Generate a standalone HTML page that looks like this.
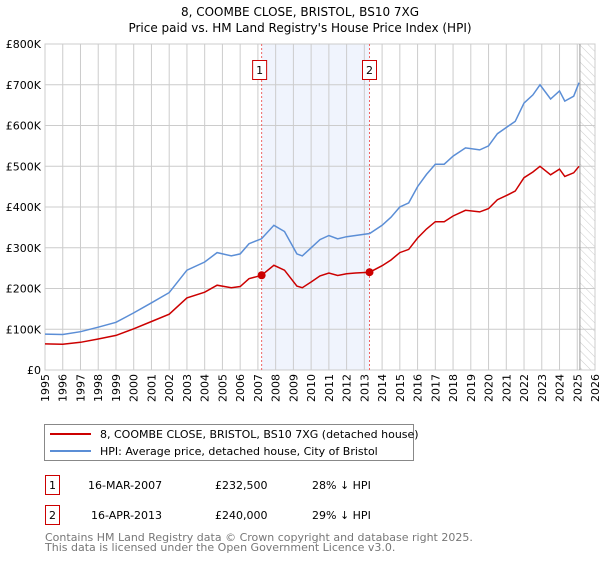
<!DOCTYPE html>
<html><head><meta charset="utf-8"><style>
body{margin:0;background:#fff;font-family:"DejaVu Sans","Liberation Sans",sans-serif;}
svg text{font-family:"DejaVu Sans","Liberation Sans",sans-serif;}
</style></head><body>
<svg id="c" width="600" height="560" viewBox="0 0 600 560" xmlns="http://www.w3.org/2000/svg">
<text x="300" y="16" text-anchor="middle" font-size="12">8, COOMBE CLOSE, BRISTOL, BS10 7XG</text>
<text x="300" y="32" text-anchor="middle" font-size="12">Price paid vs. HM Land Registry's House Price Index (HPI)</text>
<g id="plot"></g>
<rect x="44.5" y="424.5" width="369" height="36" fill="#fff" stroke="#888"/>
<line x1="50" y1="434" x2="91" y2="434" stroke="#cc0000" stroke-width="2"/>
<text x="100" y="438" font-size="11">8, COOMBE CLOSE, BRISTOL, BS10 7XG (detached house)</text>
<line x1="50" y1="451" x2="91" y2="451" stroke="#5b8ed6" stroke-width="2"/>
<text x="100" y="455" font-size="11">HPI: Average price, detached house, City of Bristol</text>
<rect x="45.5" y="475.5" width="14" height="19" fill="#fff" stroke="#cc0000"/>
<text x="52.5" y="489" font-size="11" text-anchor="middle">1</text>
<text x="88" y="489" font-size="11">16-MAR-2007</text>
<text x="215" y="489" font-size="11">£232,500</text>
<text x="312" y="489" font-size="11">28% ↓ HPI</text>
<rect x="45.5" y="505.5" width="14" height="19" fill="#fff" stroke="#cc0000"/>
<text x="52.5" y="519" font-size="11" text-anchor="middle">2</text>
<text x="91" y="519" font-size="11">16-APR-2013</text>
<text x="215" y="519" font-size="11">£240,000</text>
<text x="312" y="519" font-size="11">29% ↓ HPI</text>
<text x="45" y="541" font-size="11" fill="#777">Contains HM Land Registry data © Crown copyright and database right 2025.</text>
<text x="45" y="551" font-size="11" fill="#777">This data is licensed under the Open Government Licence v3.0.</text>
</svg>
<script>
const hpiYears=[1995,1996,1997,1998,1999,2000,2001,2002,2003,2004,2004.7,2005.5,2006,2006.5,2007.2,2007.9,2008.5,2009.2,2009.5,2010,2010.5,2011,2011.5,2012,2012.5,2013.3,2014,2014.5,2015,2015.5,2016,2016.5,2017,2017.5,2018,2018.7,2019.5,2020,2020.5,2021,2021.5,2022,2022.5,2022.9,2023.5,2024,2024.3,2024.8,2025.1];
const hpiValues=[88,87,94,105,117,140,165,190,245,265,288,280,285,310,322,355,340,285,280,300,320,330,322,327,330,335,355,375,400,410,450,480,505,505,525,545,540,550,580,595,610,655,675,700,665,685,660,672,705];
const priceValues=[64,63,68,76,85,101,119,137,177,191,208,202,205,224,232.5,257,245,206,202,216,231,238,232,236,238,240,256,270,288,296,324,346,364,364,378,392,388,396,418,428,439,472,486,500,479,493,475,484,500];
const saleYears=[2007.21,2013.29];
const saleValues=[232.5,240];
const yTicks=[0,100,200,300,400,500,600,700,800];
const yTickLabels=["£0","£100K","£200K","£300K","£400K","£500K","£600K","£700K","£800K"];
const xTicks=[1995,1996,1997,1998,1999,2000,2001,2002,2003,2004,2005,2006,2007,2008,2009,2010,2011,2012,2013,2014,2015,2016,2017,2018,2019,2020,2021,2022,2023,2024,2025,2026];
const NS="http://www.w3.org/2000/svg";
const L=45,R=595,T=44,B=370;
const xs=y=>L+(y-1995)/(2026-1995)*(R-L);
const ys=v=>B-v/800*(B-T);
const g=document.getElementById('plot');
function mk(tag,attrs){const e=document.createElementNS(NS,tag);for(const k in attrs)e.setAttribute(k,attrs[k]);g.appendChild(e);return e;}
let e;
e=mk('rect',{x:L,y:T,width:R-L,height:B-T,fill:'#fff',stroke:'#ccc'});


e=mk('rect',{x:xs(saleYears[0]),y:T,width:xs(saleYears[1])-xs(saleYears[0]),height:B-T,fill:'#f0f4fd'});


const defs=document.createElementNS(NS,'defs');
defs.innerHTML='<pattern id="hat" width="6" height="6" patternUnits="userSpaceOnUse" patternTransform="rotate(-45)"><line x1="0" y1="0" x2="0" y2="6" stroke="#ccc" stroke-width="1"/></pattern>';
g.appendChild(defs);
e=mk('rect',{x:xs(2025.15),y:T,width:R-xs(2025.15),height:B-T,fill:'url(#hat)'});


xTicks.forEach(t=>{
 e=mk('line',{x1:xs(t),x2:xs(t),y1:T,y2:B,stroke:'#ccc'});
 
 
 e=mk('text',{x:0,y:0,'font-size':11,'text-anchor':'end',transform:`translate(${xs(t)+4},${B+4}) rotate(-90)`});
 e.textContent=t;
 
 
});
yTicks.forEach((t,i)=>{
 e=mk('line',{x1:L,x2:R,y1:ys(t),y2:ys(t),stroke:'#ccc'});
 
 
 e=mk('text',{x:L-4,y:ys(t)+4,'font-size':11,'text-anchor':'end'});
 e.textContent=yTickLabels[i];
 
 
});
e=mk('line',{x1:xs(2025.15),x2:xs(2025.15),y1:T,y2:B,stroke:'#999'});


saleYears.forEach((s,i)=>{
 e=mk('line',{x1:xs(s),x2:xs(s),y1:T,y2:B,stroke:'#e66','stroke-dasharray':'2,2'});
 
 
 e=mk('rect',{x:xs(s)-(i?7:9),y:60.5,width:14,height:19,fill:'#fff',stroke:'#cc0000'});
 
 
 e=mk('text',{x:xs(s)-(i?0:2),y:74,'font-size':11,'text-anchor':'middle'});
 e.textContent=String(i+1);
 
 
});
const pts=v=>hpiYears.map((y,i)=>xs(y).toFixed(1)+','+ys(v[i]).toFixed(1)).join(' ');
e=mk('polyline',{points:pts(hpiValues),fill:'none',stroke:'#5b8ed6','stroke-width':1.5});


e=mk('polyline',{points:pts(priceValues),fill:'none',stroke:'#cc0000','stroke-width':1.5});


saleYears.forEach((s,i)=>{
 e=mk('circle',{cx:xs(s),cy:ys(saleValues[i]),r:4,fill:'#cc0000'});
 
 
});
</script>
</body></html>
